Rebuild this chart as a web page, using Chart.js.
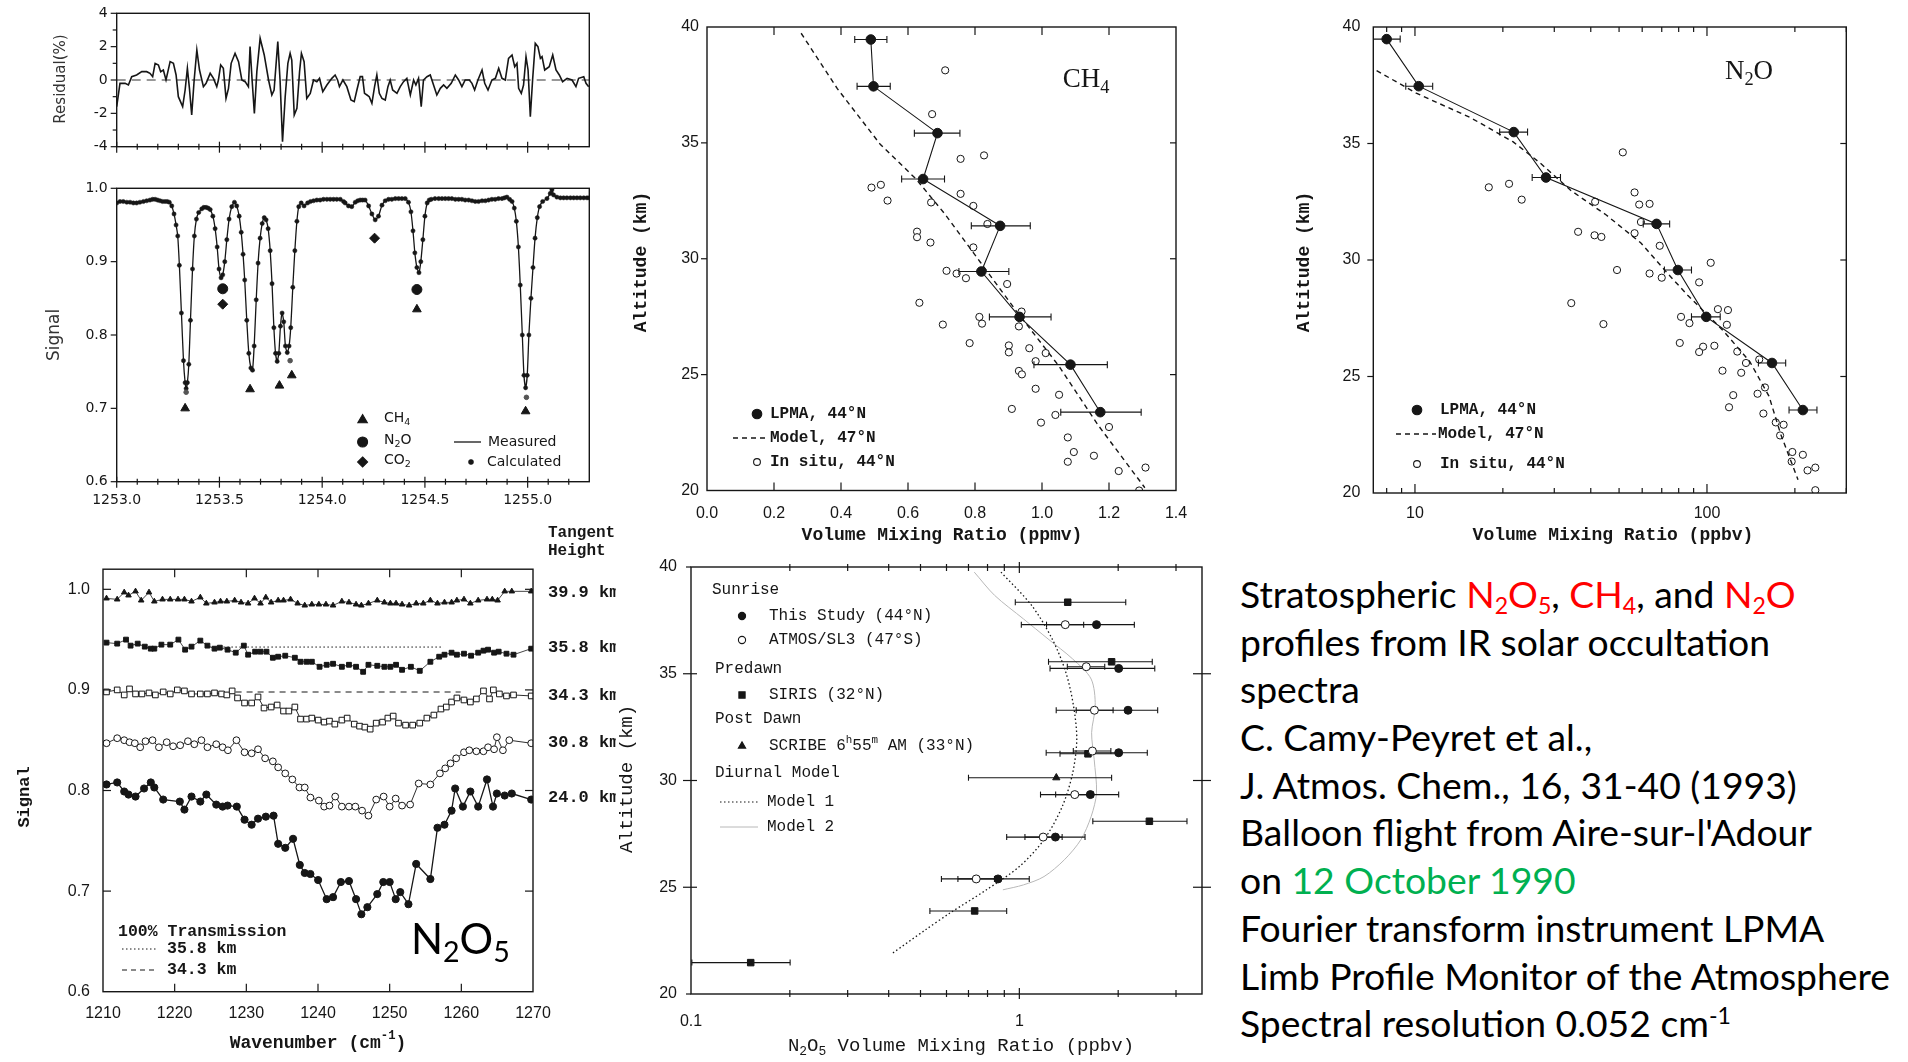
<!DOCTYPE html>
<html>
<head>
<meta charset="utf-8">
<title>LPMA profiles N2O5, CH4, N2O</title>
<script src="https://cdn.jsdelivr.net/npm/chart.js@4.4.1/dist/chart.umd.min.js"></script>
<style>
  html, body { margin: 0; padding: 0; background: #fff; }
  body { width: 1908px; height: 1062px; position: relative; overflow: hidden; }
  .panel { position: absolute; }
  #note { position: absolute; left: 1240px; top: 571px; font-family: Lato, 'Noto Sans', sans-serif;
          font-size: 36px; line-height: 47.7px; color: #000; white-space: nowrap; transform-origin: 0 0; z-index: 5; }
  #note div { height: 47.7px; }
  #note sub { font-size: 0.62em; vertical-align: -0.28em; line-height: 0; }
  #note sup { font-size: 0.62em; vertical-align: 0.6em; line-height: 0; }
  .red { color: #ff0000; }
  .green { color: #00b050; }
</style>
</head>
<body>

<div id="note">
  <div>Stratospheric <span class="red">N<sub>2</sub>O<sub>5</sub></span>, <span class="red">CH<sub>4</sub></span>, and <span class="red">N<sub>2</sub>O</span></div>
  <div>profiles from IR solar occultation</div>
  <div>spectra</div>
  <div>C. Camy-Peyret et al.,</div>
  <div>J. Atmos. Chem., 16, 31-40 (1993)</div>
  <div>Balloon flight from Aire-sur-l'Adour</div>
  <div>on <span class="green">12 October 1990</span></div>
  <div>Fourier transform instrument LPMA</div>
  <div><span id="longest">Limb Profile Monitor of the Atmosphere</span></div>
  <div>Spectral resolution 0.052 cm<sup>-1</sup></div>
</div>

<script>
// ---------- residual (top left) ----------
const resWn = [1253.000,1253.016,1253.041,1253.057,1253.073,1253.097,1253.122,1253.146,1253.162,1253.175,
  1253.187,1253.203,1253.214,1253.227,1253.240,1253.260,1253.276,1253.289,1253.300,1253.321,
  1253.333,1253.344,1253.354,1253.365,1253.377,1253.390,1253.403,1253.422,1253.435,1253.455,
  1253.471,1253.487,1253.495,1253.506,1253.519,1253.532,1253.544,1253.557,1253.576,1253.593,
  1253.609,1253.625,1253.641,1253.649,1253.659,1253.670,1253.682,1253.698,1253.718,1253.739,
  1253.755,1253.766,1253.784,1253.795,1253.807,1253.820,1253.833,1253.844,1253.852,1253.864,
  1253.877,1253.890,1253.899,1253.912,1253.925,1253.942,1253.958,1253.974,1253.987,1254.003,
  1254.023,1254.047,1254.063,1254.075,1254.084,1254.101,1254.120,1254.140,1254.156,
  1254.169,1254.185,1254.196,1254.206,1254.218,1254.229,1254.242,1254.255,1254.266,1254.278,
  1254.291,1254.307,1254.320,1254.331,1254.343,1254.364,1254.380,1254.396,1254.412,1254.429,
  1254.445,1254.456,1254.469,1254.482,1254.493,1254.510,1254.526,1254.542,1254.558,1254.575,
  1254.591,1254.607,1254.628,1254.648,1254.664,1254.680,1254.696,1254.716,1254.729,1254.742,
  1254.758,1254.778,1254.791,1254.807,1254.826,1254.843,1254.859,1254.875,1254.891,1254.907,
  1254.924,1254.937,1254.948,1254.956,1254.969,1254.980,1254.992,1255.002,1255.013,1255.024,
  1255.037,1255.050,1255.062,1255.070,1255.083,1255.105,1255.122,1255.138,1255.154,1255.170,
  1255.192,1255.216,1255.235,1255.248,1255.273,1255.284,1255.297];
const resVal = [-1.6,-0.2,-0.2,-0.3,0.2,0.3,0.5,0.5,0.4,0.2,
  1.0,0.9,0.5,0.6,0.0,1.1,1.0,0.3,-1.0,-1.6,
  -0.6,0.7,-0.5,-2.1,0.0,1.8,0.6,-0.4,-0.2,0.4,
  0.1,-0.4,0.0,0.9,0.7,-1.1,-0.5,1.0,1.6,1.1,
  0.0,-0.1,-0.4,2.0,0.0,-2.0,0.5,2.5,1.5,0.0,
  -0.9,-0.6,2.3,0.0,-3.7,-1.0,1.0,1.6,1.2,-2.1,
  -1.7,0.5,1.6,1.1,-1.1,-0.8,0.0,-0.1,0.1,-0.7,
  -0.3,0.1,0.3,0.0,-0.4,0.0,-0.4,-1.2,-1.3,
  -0.6,0.2,0.2,-0.8,-0.9,-1.0,-1.4,-0.4,0.3,-0.8,
  -1.1,-1.2,-0.4,0.0,-0.6,-0.8,-0.4,-0.1,0.1,-0.9,
  0.0,-0.3,0.1,-1.6,0.0,0.2,0.3,-0.3,-0.9,-0.5,
  -0.3,-0.5,-0.2,0.3,0.0,-0.4,0.0,0.0,-0.2,-0.6,
  0.0,0.6,-0.2,-0.6,0.0,0.1,0.7,0.1,0.0,1.3,
  1.5,0.8,1.0,-0.5,-0.8,-0.3,1.4,0.6,-2.2,0.0,
  2.2,2.0,1.3,1.4,0.6,0.8,1.5,0.6,0.3,-0.1,
  0.1,0.0,-0.4,0.1,0.2,-0.2,-0.4];
const zeroWn = [1253.0, 1255.3];
const zeroVal = [0, 0];

// ---------- signal (measured / calculated) ----------
const sigWn = [1253.000,1253.016,1253.032,1253.049,1253.065,1253.081,1253.097,1253.113,1253.130,1253.146,
  1253.162,1253.175,1253.187,1253.199,1253.211,1253.223,1253.235,1253.246,1253.256,1253.268,
  1253.279,1253.289,1253.297,1253.305,1253.315,1253.325,1253.333,1253.338,1253.344,1253.351,
  1253.359,1253.369,1253.378,1253.388,1253.399,1253.414,1253.424,1253.435,1253.445,1253.455,
  1253.468,1253.479,1253.489,1253.498,1253.508,1253.516,1253.526,1253.536,1253.547,1253.560,
  1253.573,1253.584,1253.596,1253.606,1253.615,1253.623,1253.633,1253.643,1253.653,1253.661,
  1253.669,1253.679,1253.688,1253.698,1253.708,1253.718,1253.727,1253.737,1253.747,1253.756,
  1253.765,1253.773,1253.781,1253.789,1253.797,1253.805,1253.813,1253.821,1253.830,1253.839,
  1253.847,1253.857,1253.867,1253.877,1253.886,1253.898,1253.912,1253.929,1253.943,1253.958,
  1253.974,1253.990,1254.006,1254.023,1254.039,1254.055,1254.071,1254.088,1254.104,1254.112,
  1254.128,1254.144,1254.161,1254.173,1254.185,1254.197,1254.209,1254.226,1254.242,1254.258,
  1254.274,1254.291,1254.307,1254.323,1254.339,1254.356,1254.372,1254.388,1254.404,1254.420,
  1254.432,1254.442,1254.451,1254.461,1254.471,1254.480,1254.490,1254.500,1254.511,1254.521,
  1254.531,1254.549,1254.567,1254.583,1254.599,1254.615,1254.631,1254.648,1254.664,1254.680,
  1254.696,1254.713,1254.729,1254.745,1254.761,1254.778,1254.794,1254.810,1254.826,1254.842,
  1254.858,1254.875,1254.887,1254.899,1254.912,1254.924,1254.935,1254.945,1254.955,1254.964,
  1254.974,1254.982,1254.990,1254.998,1255.006,1255.016,1255.026,1255.036,1255.047,1255.058,
  1255.073,1255.094,1255.110,1255.118,1255.126,1255.142,1255.159,1255.175,1255.191,1255.208,
  1255.224,1255.240,1255.256,1255.273,1255.289,1255.300];
const sigVal = [0.980,0.982,0.982,0.981,0.981,0.980,0.980,0.981,0.982,0.983,
  0.984,0.985,0.985,0.984,0.983,0.982,0.982,0.982,0.981,0.976,
  0.965,0.950,0.935,0.895,0.830,0.765,0.735,0.727,0.735,0.760,
  0.820,0.890,0.935,0.958,0.967,0.972,0.974,0.974,0.973,0.971,
  0.962,0.945,0.920,0.890,0.878,0.882,0.900,0.930,0.958,0.975,
  0.981,0.976,0.962,0.940,0.910,0.875,0.820,0.775,0.755,0.752,
  0.785,0.848,0.898,0.932,0.952,0.960,0.957,0.945,0.915,0.870,
  0.810,0.775,0.764,0.775,0.812,0.830,0.818,0.785,0.776,0.785,
  0.810,0.865,0.915,0.955,0.975,0.980,0.976,0.980,0.982,0.983,
  0.984,0.984,0.985,0.985,0.985,0.985,0.985,0.985,0.982,0.980,
  0.976,0.975,0.981,0.983,0.984,0.984,0.984,0.976,0.965,0.957,
  0.962,0.977,0.983,0.985,0.985,0.986,0.986,0.986,0.986,0.981,
  0.968,0.942,0.912,0.892,0.885,0.900,0.930,0.962,0.980,0.984,
  0.985,0.986,0.986,0.986,0.986,0.986,0.986,0.985,0.985,0.985,
  0.984,0.984,0.983,0.982,0.982,0.983,0.983,0.984,0.985,0.985,
  0.986,0.986,0.987,0.988,0.985,0.982,0.973,0.955,0.920,0.868,
  0.800,0.745,0.728,0.745,0.800,0.850,0.892,0.932,0.960,0.975,
  0.982,0.986,0.993,0.998,0.991,0.988,0.987,0.987,0.987,0.987,
  0.987,0.987,0.987,0.987,0.987,0.987];
const ch4LineWn = [1253.333, 1253.649, 1253.792, 1253.852, 1254.461, 1254.990];
const ch4LineSig = [0.700, 0.726, 0.731, 0.745, 0.835, 0.696];
const n2oLineWn = [1253.516, 1254.461];
const n2oLineSig = [0.863, 0.862];
const co2LineWn = [1253.516, 1254.255];
const co2LineSig = [0.842, 0.932];
const calcExtraWn = [1253.338, 1253.844, 1254.994];
const calcExtraSig = [0.722, 0.765, 0.715];

// ---------- CH4 profile ----------
const ch4Alt = [39.46, 37.44, 35.42, 33.44, 31.42, 29.45, 27.49, 25.43, 23.38];
const ch4Lpma = [0.489, 0.497, 0.688, 0.645, 0.875, 0.819, 0.933, 1.085, 1.174];
const ch4Lo = [0.441, 0.448, 0.619, 0.581, 0.789, 0.752, 0.843, 0.976, 1.056];
const ch4Hi = [0.537, 0.547, 0.755, 0.709, 0.965, 0.901, 1.027, 1.195, 1.296];
const ch4ModelAlt = [39.73, 37.34, 34.94, 33.44, 31.95, 29.85, 27.75, 25.36, 22.81, 20.12];
const ch4Model = [0.281, 0.389, 0.517, 0.624, 0.709, 0.816, 0.923, 1.051, 1.168, 1.307];
const ch4InsituAlt = [38.13,36.24,34.31,34.46,33.07,33.19,32.51,32.80,32.43,32.28,
  31.50,31.17,30.93,30.70,30.49,29.48,29.36,29.16,28.91,28.10,
  27.72,27.49,27.20,27.16,27.08,26.36,26.26,25.96,26.14,25.93,
  25.58,25.16,25.01,24.39,24.13,23.52,23.26,22.93,22.74,22.29,
  21.66,21.24,21.50,20.84,20.99,20.00];
const ch4Insitu = [0.711,0.672,0.757,0.827,0.491,0.519,0.539,0.757,0.669,0.795,
  0.837,0.627,0.627,0.667,0.795,0.715,0.745,0.773,0.896,0.634,
  0.939,0.813,0.821,0.704,0.931,0.784,0.901,0.901,0.962,1.011,
  0.981,0.931,0.940,0.981,1.051,0.910,1.040,0.997,1.200,1.077,
  1.095,1.077,1.155,1.229,1.309,1.290];

// ---------- N2O profile ----------
const n2oAlt = [39.48, 37.46, 35.49, 33.54, 31.55, 29.57, 27.56, 25.58, 23.56];
const n2oLpma = [8.0, 10.3, 21.8, 28.1, 67.2, 79.5, 99.4, 167, 213];
const n2oLo = [7.2, 9.3, 19.5, 25.2, 60.5, 71.5, 88.5, 150, 191];
const n2oHi = [8.9, 11.5, 24.3, 31.5, 74.5, 88.5, 111, 186, 238];
const n2oModelAlt = [38.13, 37.16, 36.11, 35.07, 34.17, 32.97, 31.93, 30.73, 29.39, 28.49, 27.0, 25.65, 24.16, 22.51, 20.57];
const n2oModel = [7.39, 10.1, 15.5, 21.7, 26.8, 34.3, 45.2, 59.4, 73.7, 85.9, 113, 140, 163, 179, 205];
const n2oInsituAlt = [34.62,33.12,33.27,32.59,32.90,32.38,32.41,32.50,31.63,31.21,
  31.06,30.99,31.15,30.61,29.57,29.42,29.24,29.04,29.88,28.15,
  27.25,27.56,27.29,27.89,27.85,27.22,26.44,26.28,26.32,26.05,
  26.07,25.58,25.73,25.25,25.16,24.20,24.53,24.26,23.68,23.41,
  23.03,22.93,22.47,21.76,21.64,21.35,20.97,21.09,20.12];
const n2oInsitu = [51.5,17.9,21.0,23.2,56.5,58.6,63.6,41.4,59.4,36.2,
  41.2,43.5,56.5,68.9,49.2,63.6,70.0,94.0,103,34.3,
  44.2,81.5,87.1,109,118,117,80.7,97,106,94,
  127,136,151,113,131,123,158,149,119,156,
  172,183,178,196,213,195,221,235,235];

// ---------- N2O5 spectra at tangent heights ----------
const e399Wn = [1210.49,1211.98,1212.96,1213.56,1214.54,1215.33,1216.42,1217.16,1218.30,1219.38,
  1220.47,1221.36,1222.35,1223.58,1224.42,1225.56,1226.40,1227.28,1228.37,1229.26,
  1230.25,1231.14,1231.98,1232.72,1233.46,1234.44,1235.19,1236.17,1237.16,1238.15,
  1239.14,1240.12,1241.11,1242.10,1243.33,1244.32,1245.31,1246.05,1247.04,1248.27,
  1249.26,1250.10,1250.89,1251.73,1252.72,1253.70,1254.69,1255.68,1256.67,1257.65,
  1258.64,1259.38,1260.37,1261.26,1262.35,1263.58,1264.32,1265.06,1266.05,1267.04,1269.75];
const e399 = [0.991,0.990,0.997,0.994,0.998,0.989,0.997,0.988,0.990,0.990,
  0.990,0.990,0.988,0.992,0.986,0.987,0.988,0.988,0.989,0.987,
  0.986,0.991,0.986,0.992,0.987,0.989,0.989,0.990,0.986,0.984,
  0.985,0.985,0.985,0.984,0.988,0.987,0.985,0.984,0.986,0.989,
  0.987,0.986,0.986,0.985,0.984,0.986,0.986,0.989,0.986,0.987,
  0.987,0.989,0.990,0.986,0.989,0.990,0.990,0.989,0.998,0.998,0.998];
const e358Wn = [1210.49,1211.98,1213.21,1213.85,1214.84,1215.83,1216.67,1217.16,1218.15,1219.38,
  1220.52,1221.46,1222.35,1223.58,1224.57,1225.56,1226.30,1227.38,1228.52,1229.65,
  1230.25,1231.23,1231.98,1232.81,1233.70,1234.44,1235.43,1236.77,1237.56,1238.40,
  1239.14,1240.22,1241.21,1242.10,1243.33,1244.32,1245.31,1246.30,1247.04,1248.27,
  1249.26,1250.10,1250.89,1251.73,1252.96,1254.20,1255.68,1256.91,1257.65,1258.64,
  1259.38,1260.37,1261.36,1262.35,1263.09,1263.73,1264.57,1265.21,1266.30,1267.28,1269.75];
const e358 = [0.947,0.946,0.950,0.944,0.946,0.943,0.941,0.941,0.945,0.945,
  0.950,0.940,0.943,0.949,0.944,0.941,0.942,0.940,0.937,0.944,
  0.935,0.938,0.938,0.938,0.932,0.933,0.934,0.932,0.928,0.928,
  0.928,0.923,0.925,0.926,0.923,0.925,0.923,0.918,0.925,0.924,
  0.923,0.923,0.925,0.920,0.923,0.919,0.928,0.933,0.935,0.937,
  0.935,0.936,0.934,0.937,0.939,0.940,0.937,0.938,0.936,0.935,0.941];
const e343Wn = [1210.49,1211.98,1212.96,1213.70,1214.54,1215.43,1216.42,1217.31,1218.40,1219.38,
  1220.37,1221.36,1222.35,1223.58,1224.57,1225.56,1226.54,1227.28,1228.02,1228.77,
  1229.75,1230.74,1231.63,1232.47,1233.46,1234.30,1235.19,1235.93,1236.77,1237.56,
  1238.40,1239.14,1240.02,1240.86,1241.60,1242.35,1243.33,1244.07,1245.06,1245.80,
  1246.54,1247.28,1248.12,1249.01,1249.75,1250.49,1251.23,1252.22,1253.21,1254.20,
  1255.19,1256.17,1257.16,1257.90,1258.64,1259.38,1260.37,1261.26,1262.10,1263.09,
  1263.93,1264.47,1265.31,1266.30,1267.28,1269.75];
const e343 = [0.898,0.900,0.895,0.901,0.896,0.896,0.897,0.895,0.898,0.896,
  0.900,0.899,0.896,0.896,0.896,0.897,0.896,0.895,0.899,0.892,
  0.887,0.887,0.893,0.882,0.883,0.885,0.879,0.879,0.883,0.871,
  0.871,0.872,0.870,0.868,0.869,0.866,0.870,0.872,0.866,0.864,
  0.863,0.861,0.867,0.868,0.872,0.874,0.867,0.865,0.865,0.867,
  0.872,0.875,0.881,0.883,0.888,0.892,0.890,0.888,0.891,0.899,
  0.891,0.900,0.896,0.894,0.895,0.894];
const e308Wn = [1210.49,1211.98,1212.96,1213.70,1214.44,1215.19,1215.93,1216.91,1217.80,1218.89,
  1219.78,1220.77,1221.85,1222.74,1223.73,1224.57,1225.80,1226.69,1227.43,1228.62,
  1229.75,1230.74,1231.63,1232.62,1233.70,1234.44,1235.43,1236.42,1237.41,1238.15,
  1238.94,1240.12,1240.86,1241.60,1242.40,1243.33,1244.32,1245.21,1246.15,1247.04,
  1248.12,1249.16,1250.00,1250.84,1251.73,1252.86,1254.05,1255.68,1257.01,1257.75,
  1258.49,1259.28,1260.37,1261.11,1262.10,1263.09,1263.73,1264.57,1264.96,1265.80,
  1266.69,1269.75];
const e308 = [0.847,0.852,0.850,0.848,0.847,0.843,0.849,0.850,0.843,0.848,
  0.844,0.845,0.849,0.846,0.850,0.843,0.846,0.843,0.840,0.850,
  0.838,0.837,0.841,0.832,0.829,0.823,0.817,0.811,0.803,0.803,
  0.793,0.790,0.784,0.785,0.794,0.784,0.784,0.784,0.780,0.775,
  0.791,0.794,0.784,0.792,0.785,0.786,0.807,0.806,0.817,0.822,
  0.827,0.832,0.838,0.840,0.839,0.839,0.843,0.841,0.853,0.840,
  0.850,0.847];
const e240Wn = [1210.49,1211.98,1212.96,1213.56,1214.54,1215.73,1216.67,1217.16,1218.40,1220.72,
  1221.36,1222.35,1223.58,1224.42,1225.80,1226.69,1227.38,1228.67,1229.75,1230.74,
  1231.63,1232.72,1233.80,1234.44,1235.43,1236.52,1237.46,1238.15,1238.94,1240.02,
  1241.21,1242.10,1243.19,1244.32,1245.31,1246.05,1246.89,1248.27,1249.11,1250.00,
  1250.84,1251.48,1252.62,1253.70,1255.68,1256.67,1257.65,1258.64,1259.14,1260.22,
  1261.26,1262.35,1263.58,1264.42,1264.96,1266.05,1267.04,1269.75];
const e240 = [0.806,0.808,0.799,0.796,0.794,0.802,0.808,0.803,0.791,0.789,
  0.781,0.794,0.789,0.796,0.786,0.784,0.785,0.784,0.771,0.766,
  0.772,0.774,0.775,0.747,0.743,0.752,0.726,0.718,0.717,0.711,
  0.692,0.694,0.709,0.710,0.692,0.677,0.684,0.697,0.709,0.709,
  0.692,0.699,0.687,0.727,0.712,0.763,0.766,0.780,0.802,0.784,
  0.799,0.784,0.811,0.784,0.797,0.795,0.797,0.791];
const ref358Wn = [1226.8, 1257.5];
const ref358 = [0.9426, 0.9426];
const ref343Wn = [1228.5, 1259.9];
const ref343 = [0.898, 0.898];
const tangentLabels = ['39.9 km', '35.8 km', '34.3 km', '30.8 km', '24.0 km'];

// ---------- N2O5 profile ----------
const sunAlt = [37.30, 35.25, 33.29, 31.30, 29.34, 27.35, 25.39];
const sunVmr = [1.718, 2.007, 2.143, 2.007, 1.645, 1.288, 0.861];
const sunLo = [1.014, 1.24, 1.295, 1.207, 1.16, 0.915, 0.579];
const sunHi = [2.24, 2.585, 2.638, 2.453, 2.007, 1.585, 1.072];
const atmosAlt = [37.30, 35.33, 33.29, 31.38, 29.34, 27.35, 25.39];
const atmosVmr = [1.380, 1.599, 1.693, 1.669, 1.475, 1.182, 0.739];
const atmosLo = [1.21, 1.40, 1.49, 1.46, 1.29, 1.04, 0.65];
const atmosHi = [1.57, 1.82, 1.93, 1.90, 1.68, 1.35, 0.84];
const sirisAlt = [38.35, 35.56, 31.25, 28.09, 23.89, 21.47];
const sirisVmr = [1.404, 1.910, 1.618, 2.489, 0.731, 0.152];
const sirisLo = [0.972, 1.227, 1.33, 1.674, 0.534, 0.1006];
const sirisHi = [2.109, 2.54, 2.0, 3.24, 0.915, 0.2004];
const scribeAlt = [30.13];
const scribeVmr = [1.296];
const scribeLo = [0.70];
const scribeHi = [1.91];
const model1Alt = [39.76, 38.2, 36.63, 35.06, 33.5, 31.93, 30.36, 28.79, 27.23, 25.97, 24.88, 23.78, 22.99, 21.90];
const model1Vmr = [0.879, 1.09, 1.259, 1.386, 1.462, 1.496, 1.454, 1.352, 1.189, 1.0, 0.794, 0.613, 0.516, 0.41];
const model2Alt = [39.76, 38.67, 37.57, 36.63, 35.69, 34.75, 33.5, 32.24, 30.99, 29.42, 28.32, 27.23, 26.29, 25.5, 25.11, 24.88];
const model2Vmr = [0.729, 0.841, 1.029, 1.223, 1.454, 1.655, 1.703, 1.66, 1.69, 1.718, 1.655, 1.54, 1.372, 1.189, 1.029, 0.891];

// ---------- tick values ----------
const resTicks = [-4, -2, 0, 2, 4];
const resMinor = [-3, -1, 1, 3];
const sigTicks = [0.6, 0.7, 0.8, 0.9, 1.0];
const wnTicks = [1253.0, 1253.5, 1254.0, 1254.5, 1255.0];
const wnMinor = [1253.1,1253.2,1253.3,1253.4,1253.6,1253.7,1253.8,1253.9,1254.1,1254.2,1254.3,1254.4,1254.6,1254.7,1254.8,1254.9,1255.1,1255.2];
const ppmvTicks = [0, 0.2, 0.4, 0.6, 0.8, 1.0, 1.2, 1.4];
const altTicks = [20, 25, 30, 35, 40];
const altInner = [25, 30, 35];
const ppbvTicks = [10, 100];
const ppbvMinor = [8, 9, 20, 30, 40, 50, 60, 70, 80, 90, 200, 300];
const eWnTicks = [1210, 1220, 1230, 1240, 1250, 1260, 1270];
const eSigTicks = [0.6, 0.7, 0.8, 0.9, 1.0];
const n2o5Ticks = [0.1, 1];
const n2o5Minor = [0.2, 0.3, 0.4, 0.5, 0.6, 0.7, 0.8, 0.9, 2, 3];

const INK = '#161616';
const MONO = "'Liberation Mono', 'DejaVu Sans Mono', monospace";
const SANS = "'Liberation Sans', Arial, sans-serif";
const GEO = "'DejaVu Sans', sans-serif";
const SERIF = "'Liberation Serif', serif";

function pts(xs, ys) { return xs.map((x, i) => ({ x: x, y: ys[i] })); }
function bars(lo, hi, ys) {
  const d = [];
  ys.forEach((y, i) => { d.push({ x: lo[i], y: y }, { x: hi[i], y: y }, { x: null, y: null }); });
  return d;
}

function richParts(s) {
  const out = [];
  const re = /([_^])\{([^}]*)\}/g;
  let last = 0, m;
  while ((m = re.exec(s))) {
    if (m.index > last) out.push({ t: s.slice(last, m.index), k: 0 });
    out.push({ t: m[2], k: m[1] === '_' ? 1 : -1 });
    last = re.lastIndex;
  }
  if (last < s.length) out.push({ t: s.slice(last), k: 0 });
  return out;
}

function drawRich(ctx, t, ox, oy) {
  const size = t.size || 16, fam = t.family || SANS, wt = t.weight || 'normal';
  const parts = richParts(t.text);
  const fontOf = k => wt + ' ' + (k ? size * 0.68 : size) + 'px ' + fam;
  let total = 0;
  const widths = parts.map(p => { ctx.font = fontOf(p.k); const w = ctx.measureText(p.t).width; total += w; return w; });
  ctx.save();
  ctx.translate(t.x - ox, t.y - oy);
  if (t.rot) ctx.rotate(t.rot * Math.PI / 180);
  if (t.clip) { ctx.beginPath(); ctx.rect(-50, -size, t.clip - t.x + 50, size * 2); ctx.clip(); }
  let x = t.align === 'center' ? -total / 2 : (t.align === 'right' ? -total : 0);
  ctx.textBaseline = 'middle';
  ctx.textAlign = 'left';
  ctx.fillStyle = t.color || INK;
  parts.forEach((p, i) => {
    ctx.font = fontOf(p.k);
    const dy = p.k === 1 ? size * 0.3 : (p.k === -1 ? -size * 0.38 : 0);
    ctx.fillText(p.t, x, dy);
    x += widths[i];
  });
  ctx.restore();
}

function drawMark(ctx, style, x, y, r, fill) {
  ctx.beginPath();
  if (style === 'circle') ctx.arc(x, y, r, 0, Math.PI * 2);
  else if (style === 'triangle') { ctx.moveTo(x, y - r); ctx.lineTo(x + r * 0.866, y + r * 0.5); ctx.lineTo(x - r * 0.866, y + r * 0.5); ctx.closePath(); }
  else if (style === 'rect') { const h = r * 0.707; ctx.rect(x - h, y - h, 2 * h, 2 * h); }
  else if (style === 'rectRot') { ctx.moveTo(x, y - r); ctx.lineTo(x + r, y); ctx.lineTo(x, y + r); ctx.lineTo(x - r, y); ctx.closePath(); }
  ctx.fillStyle = fill ? INK : '#fff';
  ctx.fill();
  ctx.strokeStyle = INK; ctx.lineWidth = 1.1;
  ctx.stroke();
}

const decorPlugin = {
  id: 'decor',
  afterDraw(chart, args, o) {
    const ctx = chart.ctx, a = chart.chartArea, sx = chart.scales.x, sy = chart.scales.y;
    const ox = o.origin.x, oy = o.origin.y;
    ctx.save();
    ctx.strokeStyle = INK;
    ctx.lineWidth = o.frameWidth || 1.4;
    ctx.strokeRect(a.left, a.top, a.right - a.left, a.bottom - a.top);
    (o.ticks || []).forEach(t => {
      ctx.lineWidth = t.width || 1.2;
      t.values.forEach(v => {
        ctx.beginPath();
        if (t.side === 'top' || t.side === 'bottom') {
          const x = sx.getPixelForValue(v);
          const y0 = t.side === 'bottom' ? a.bottom : a.top;
          const dir = t.side === 'bottom' ? -1 : 1;
          ctx.moveTo(x, y0 - dir * (t.out || 0)); ctx.lineTo(x, y0 + dir * (t.in || 0));
        } else {
          const y = sy.getPixelForValue(v);
          const x0 = t.side === 'left' ? a.left : a.right;
          const dir = t.side === 'left' ? 1 : -1;
          ctx.moveTo(x0 - dir * (t.out || 0), y); ctx.lineTo(x0 + dir * (t.in || 0), y);
        }
        ctx.stroke();
      });
    });
    (o.lines || []).forEach(l => {
      ctx.beginPath();
      ctx.setLineDash(l.dash || []);
      ctx.strokeStyle = l.color || INK;
      ctx.lineWidth = l.width || 1.1;
      ctx.moveTo(l.x1 - ox, l.y - oy); ctx.lineTo(l.x2 - ox, l.y - oy);
      ctx.stroke();
      ctx.setLineDash([]);
    });
    (o.marks || []).forEach(m => drawMark(ctx, m.style, m.x - ox, m.y - oy, m.r, m.fill));
    (o.texts || []).forEach(t => drawRich(ctx, t, ox, oy));
    ctx.restore();
  }
};
Chart.register(decorPlugin);

function axis(type, min, max, ticks, fmt, font, pad, show) {
  return {
    type: type, min: min, max: max,
    grid: { display: false, drawTicks: false },
    border: { display: false },
    ticks: { display: show !== false, autoSkip: false, maxRotation: 0, minRotation: 0, padding: pad, color: INK, font: font, callback: fmt },
    afterBuildTicks: s => { s.ticks = ticks.map(v => ({ value: v })); }
  };
}

function panel(box, plot, xAxis, yAxis, datasets, decor) {
  const L = plot.l - box.x, T = plot.t - box.y, R = box.x + box.w - plot.r, B = box.y + box.h - plot.b;
  const wrap = document.createElement('div');
  wrap.className = 'panel';
  wrap.style.left = box.x + 'px';
  wrap.style.top = box.y + 'px';
  const cv = document.createElement('canvas');
  cv.width = box.w; cv.height = box.h;
  cv.style.width = box.w + 'px'; cv.style.height = box.h + 'px';
  wrap.appendChild(cv);
  document.body.appendChild(wrap);
  xAxis.afterFit = s => { s.height = B; s.paddingLeft = 0; s.paddingRight = 0; };
  yAxis.afterFit = s => { s.width = L; s.paddingTop = 0; s.paddingBottom = 0; };
  decor.origin = { x: box.x, y: box.y };
  return new Chart(cv, {
    type: 'scatter',
    data: { datasets: datasets },
    options: {
      responsive: false, animation: false, events: [], devicePixelRatio: 1,
      layout: { padding: { left: 0, top: T, right: R, bottom: 0 } },
      plugins: { legend: { display: false }, tooltip: { enabled: false }, decor: decor },
      scales: { x: xAxis, y: yAxis }
    }
  });
}

const lineDs = (data, o) => Object.assign({ data: data, showLine: true, borderColor: INK, borderWidth: 1.2, pointRadius: 0 }, o);
const markDs = (data, style, r, filled, o) => Object.assign({
  data: data, showLine: false, pointStyle: style, pointRadius: r, pointBorderWidth: 1,
  pointBorderColor: INK, pointBackgroundColor: filled ? INK : '#fff'
}, o);
const errDs = (data, cap) => ({
  data: data, showLine: true, spanGaps: false, borderColor: INK, borderWidth: 1.1,
  pointStyle: 'line', pointRotation: 90, pointRadius: cap, pointBorderColor: INK, pointBorderWidth: 1.1
});

function buildCharts() {
  const tickGeo = { family: GEO, size: 14 };
  const tickSans = { family: SANS, size: 16 };
  const fmt1 = v => Number(v).toFixed(1);
  const fmt0 = v => String(v);

  // residual
  panel({ x: 40, y: 0, w: 565, h: 175 }, { l: 116.7, t: 13.3, r: 589.3, b: 146.7 },
    axis('linear', 1253.0, 1255.3, wnTicks, fmt1, tickGeo, 6, false),
    axis('linear', -4, 4, resTicks, fmt0, tickGeo, 9),
    [
      lineDs(pts(resWn, resVal), { borderWidth: 1.6 }),
      lineDs(pts(zeroWn, zeroVal), { borderWidth: 1, borderDash: [9, 6], borderColor: '#333' })
    ],
    {
      ticks: [
        { side: 'bottom', values: wnTicks, in: 5, out: 6 },
        { side: 'bottom', values: wnMinor, in: 3, out: 3 },
        { side: 'left', values: resTicks, out: 6 },
        { side: 'left', values: resMinor, out: 4 }
      ],
      texts: [{ text: 'Residual(%)', x: 61, y: 79, size: 15, family: GEO, rot: -90, align: 'center', color: '#333' }]
    });

  // signal
  panel({ x: 40, y: 175, w: 565, h: 340 }, { l: 116.7, t: 188.3, r: 589.3, b: 481.7 },
    axis('linear', 1253.0, 1255.3, wnTicks, fmt1, tickGeo, 10),
    axis('linear', 0.6, 1.0, sigTicks, fmt1, tickGeo, 9),
    [
      markDs(pts(ch4LineWn, ch4LineSig), 'triangle', 5, true),
      markDs(pts(n2oLineWn, n2oLineSig), 'circle', 5, true),
      markDs(pts(co2LineWn, co2LineSig), 'rectRot', 5, true),
      markDs(pts(calcExtraWn, calcExtraSig), 'circle', 2.3, true, { pointBackgroundColor: '#555', pointBorderColor: '#555' }),
      markDs(pts(sigWn, sigVal), 'circle', 2.1, true, { pointBorderWidth: 0.5 }),
      lineDs(pts(sigWn, sigVal), { borderWidth: 1.3, tension: 0.2 })
    ],
    {
      ticks: [
        { side: 'bottom', values: wnTicks, in: 5, out: 6 },
        { side: 'bottom', values: wnMinor, in: 3, out: 3 },
        { side: 'left', values: sigTicks, out: 6 }
      ],
      marks: [
        { style: 'triangle', x: 362.6, y: 420, r: 5.5, fill: true },
        { style: 'circle', x: 362.6, y: 442, r: 5, fill: true },
        { style: 'rectRot', x: 362.6, y: 462, r: 5, fill: true },
        { style: 'circle', x: 471, y: 462, r: 2.2, fill: true }
      ],
      lines: [{ x1: 454, x2: 481, y: 442, width: 1.3 }],
      texts: [
        { text: 'Signal', x: 55, y: 335, size: 17, family: GEO, rot: -90, align: 'center', color: '#333' },
        { text: 'CH_{4}', x: 384, y: 418, size: 14, family: GEO },
        { text: 'N_{2}O', x: 384, y: 440, size: 14, family: GEO },
        { text: 'CO_{2}', x: 384, y: 460, size: 14, family: GEO },
        { text: 'Measured', x: 488, y: 442, size: 14, family: GEO },
        { text: 'Calculated', x: 487, y: 462, size: 14, family: GEO }
      ]
    });

  // CH4 profile
  panel({ x: 620, y: 8, w: 575, h: 545 }, { l: 707, t: 27, r: 1176, b: 490.5 },
    axis('linear', 0, 1.40, ppmvTicks, fmt1, tickSans, 13),
    axis('linear', 20, 40, altTicks, fmt0, tickSans, 8),
    [
      markDs(pts(ch4Lpma, ch4Alt), 'circle', 4.8, true),
      lineDs(pts(ch4Lpma, ch4Alt), { borderWidth: 1.1 }),
      errDs(bars(ch4Lo, ch4Hi, ch4Alt), 3.5),
      lineDs(pts(ch4Model, ch4ModelAlt), { borderWidth: 1.4, borderDash: [5, 4] }),
      markDs(pts(ch4Insitu, ch4InsituAlt), 'circle', 3.6, false)
    ],
    {
      ticks: [
        { side: 'top', values: ppmvTicks.slice(1, 7), in: 8 },
        { side: 'bottom', values: ppmvTicks.slice(1, 7), in: 8 },
        { side: 'left', values: altInner, out: 6 },
        { side: 'right', values: altInner, in: 6 }
      ],
      marks: [
        { style: 'circle', x: 757, y: 414, r: 4.8, fill: true },
        { style: 'circle', x: 757, y: 462, r: 3.4, fill: false }
      ],
      lines: [{ x1: 733, x2: 768, y: 438, dash: [5, 4], width: 1.4 }],
      texts: [
        { text: 'Volume Mixing Ratio (ppmv)', x: 942, y: 535, size: 18, family: MONO, weight: 'bold', align: 'center' },
        { text: 'Altitude (km)', x: 641, y: 262, size: 18, family: MONO, weight: 'bold', rot: -90, align: 'center' },
        { text: 'LPMA, 44°N', x: 770, y: 414, size: 16, family: MONO, weight: 'bold' },
        { text: 'Model, 47°N', x: 770, y: 438, size: 16, family: MONO, weight: 'bold' },
        { text: 'In situ, 44°N', x: 770, y: 462, size: 16, family: MONO, weight: 'bold' },
        { text: 'CH_{4}', x: 1086, y: 80, size: 27, family: SERIF, align: 'center' }
      ]
    });

  // N2O profile
  panel({ x: 1285, y: 8, w: 590, h: 545 }, { l: 1373.3, t: 27, r: 1846.3, b: 493 },
    axis('logarithmic', 7.2, 300, ppbvTicks, fmt0, tickSans, 11),
    axis('linear', 20, 40, altTicks, fmt0, tickSans, 13),
    [
      markDs(pts(n2oLpma, n2oAlt), 'circle', 4.8, true),
      lineDs(pts(n2oLpma, n2oAlt), { borderWidth: 1.1 }),
      errDs(bars(n2oLo, n2oHi, n2oAlt), 3.5),
      lineDs(pts(n2oModel, n2oModelAlt), { borderWidth: 1.4, borderDash: [5, 4] }),
      markDs(pts(n2oInsitu, n2oInsituAlt), 'circle', 3.6, false)
    ],
    {
      ticks: [
        { side: 'top', values: ppbvTicks, in: 9 },
        { side: 'top', values: ppbvMinor, in: 5 },
        { side: 'bottom', values: ppbvTicks, in: 9 },
        { side: 'bottom', values: ppbvMinor, in: 5 },
        { side: 'left', values: altInner, out: 6 },
        { side: 'right', values: altInner, in: 6 }
      ],
      marks: [
        { style: 'circle', x: 1417, y: 410, r: 4.8, fill: true },
        { style: 'circle', x: 1417, y: 464, r: 3.4, fill: false }
      ],
      lines: [{ x1: 1396, x2: 1436, y: 434, dash: [5, 4], width: 1.4 }],
      texts: [
        { text: 'Volume Mixing Ratio (ppbv)', x: 1613, y: 535, size: 18, family: MONO, weight: 'bold', align: 'center' },
        { text: 'Altitude (km)', x: 1304, y: 262, size: 18, family: MONO, weight: 'bold', rot: -90, align: 'center' },
        { text: 'LPMA, 44°N', x: 1440, y: 410, size: 16, family: MONO, weight: 'bold' },
        { text: 'Model, 47°N', x: 1438, y: 434, size: 16, family: MONO, weight: 'bold' },
        { text: 'In situ, 44°N', x: 1440, y: 464, size: 16, family: MONO, weight: 'bold' },
        { text: 'N_{2}O', x: 1749, y: 72, size: 27, family: SERIF, align: 'center' }
      ]
    });

  // N2O5 spectra
  const labelYs = [593, 648, 696, 743, 798];
  panel({ x: 0, y: 515, w: 632, h: 547 }, { l: 103, t: 569.2, r: 533, b: 991.7 },
    axis('linear', 1210, 1270, eWnTicks, fmt0, tickSans, 12),
    axis('linear', 0.6, 1.02, eSigTicks, fmt1, tickSans, 13),
    [
      markDs(pts(e399Wn, e399), 'triangle', 3.2, true),
      lineDs(pts(e399Wn, e399), { borderWidth: 0.8 }),
      markDs(pts(e358Wn, e358), 'rect', 3.4, true),
      lineDs(pts(e358Wn, e358), { borderWidth: 0.8 }),
      markDs(pts(e343Wn, e343), 'rect', 4, false),
      lineDs(pts(e343Wn, e343), { borderWidth: 0.9 }),
      markDs(pts(e308Wn, e308), 'circle', 3.4, false),
      lineDs(pts(e308Wn, e308), { borderWidth: 0.9 }),
      markDs(pts(e240Wn, e240), 'circle', 3.6, true),
      lineDs(pts(e240Wn, e240), { borderWidth: 1.3 }),
      lineDs(pts(ref358Wn, ref358), { borderWidth: 1, borderDash: [1.5, 2.5] }),
      lineDs(pts(ref343Wn, ref343), { borderWidth: 1.1, borderDash: [6, 5] })
    ],
    {
      ticks: [
        { side: 'top', values: eWnTicks.slice(1, 6), in: 8 },
        { side: 'bottom', values: eWnTicks.slice(1, 6), in: 8 },
        { side: 'left', values: [0.7, 0.8, 0.9, 1.0], in: 8 },
        { side: 'right', values: [0.7, 0.8, 0.9, 1.0], in: 8 }
      ],
      lines: [
        { x1: 122, x2: 158, y: 949, dash: [1.5, 2.5], width: 1 },
        { x1: 122, x2: 158, y: 970, dash: [5, 4], width: 1.1 }
      ],
      texts: [
        { text: 'Signal', x: 25, y: 797, size: 17, family: MONO, weight: 'bold', rot: -90, align: 'center' },
        { text: 'Wavenumber (cm^{-1})', x: 318, y: 1043, size: 18, family: MONO, weight: 'bold', align: 'center' },
        { text: '100% Transmission', x: 118, y: 932, size: 16.5, family: MONO, weight: 'bold' },
        { text: '35.8 km', x: 167, y: 949, size: 16.5, family: MONO, weight: 'bold' },
        { text: '34.3 km', x: 167, y: 970, size: 16.5, family: MONO, weight: 'bold' },
        { text: 'Tangent', x: 548, y: 533, size: 16, family: MONO, weight: 'bold' },
        { text: 'Height', x: 548, y: 551, size: 16, family: MONO, weight: 'bold' },
        { text: 'N_{2}O_{5}', x: 411, y: 940, size: 42, family: "Lato, 'Noto Sans', sans-serif", color: '#000' }
      ].concat(tangentLabels.map((s, i) => ({ text: s, x: 548, y: labelYs[i], size: 17, family: MONO, weight: 'bold', clip: 616 })))
    });

  // N2O5 profile
  panel({ x: 605, y: 548, w: 615, h: 514 }, { l: 691, t: 567, r: 1202, b: 994 },
    axis('logarithmic', 0.1, 3.6, n2o5Ticks, fmt0, tickSans, 18),
    axis('linear', 20, 40, altTicks, fmt0, tickSans, 14),
    [
      markDs(pts(sunVmr, sunAlt), 'circle', 4, true),
      markDs(pts(atmosVmr, atmosAlt), 'circle', 4, false),
      markDs(pts(sirisVmr, sirisAlt), 'rect', 4.6, true),
      markDs(pts(scribeVmr, scribeAlt), 'triangle', 4.2, true),
      errDs(bars(sunLo, sunHi, sunAlt), 3),
      errDs(bars(atmosLo, atmosHi, atmosAlt), 3),
      errDs(bars(sirisLo, sirisHi, sirisAlt), 3),
      errDs(bars(scribeLo, scribeHi, scribeAlt), 3),
      lineDs(pts(model1Vmr, model1Alt), { borderWidth: 1.3, borderDash: [1.5, 2.5], tension: 0.3 }),
      lineDs(pts(model2Vmr, model2Alt), { borderWidth: 1, borderColor: '#b8b8b8', tension: 0.3 })
    ],
    {
      ticks: [
        { side: 'top', values: n2o5Minor, in: 4, out: 3 },
        { side: 'top', values: [1], in: 6, out: 5 },
        { side: 'bottom', values: n2o5Minor, in: 4, out: 3 },
        { side: 'bottom', values: [1], in: 6, out: 5 },
        { side: 'left', values: altInner, in: 6, out: 8 },
        { side: 'left', values: [20, 40], out: 5 },
        { side: 'right', values: altInner, in: 9, out: 9 }
      ],
      marks: [
        { style: 'circle', x: 742, y: 616, r: 3.6, fill: true },
        { style: 'circle', x: 742, y: 640, r: 3.6, fill: false },
        { style: 'rect', x: 742, y: 695, r: 4.4, fill: true },
        { style: 'triangle', x: 742, y: 746, r: 4.2, fill: true }
      ],
      lines: [
        { x1: 720, x2: 758, y: 802, dash: [1.5, 2.5], width: 1.2 },
        { x1: 720, x2: 758, y: 827, color: '#b8b8b8', width: 1 }
      ],
      texts: [
        { text: 'N_{2}O_{5} Volume Mixing Ratio (ppbv)', x: 961, y: 1046, size: 19, family: MONO, align: 'center' },
        { text: 'Altitude (km)', x: 627, y: 779, size: 19, family: MONO, rot: -90, align: 'center' },
        { text: 'Sunrise', x: 712, y: 590, size: 16, family: MONO },
        { text: 'This Study (44°N)', x: 769, y: 616, size: 16, family: MONO },
        { text: 'ATMOS/SL3 (47°S)', x: 769, y: 640, size: 16, family: MONO },
        { text: 'Predawn', x: 715, y: 669, size: 16, family: MONO },
        { text: 'SIRIS (32°N)', x: 769, y: 695, size: 16, family: MONO },
        { text: 'Post Dawn', x: 715, y: 719, size: 16, family: MONO },
        { text: 'SCRIBE 6^{h}55^{m} AM (33°N)', x: 769, y: 746, size: 16, family: MONO },
        { text: 'Diurnal Model', x: 715, y: 773, size: 16, family: MONO },
        { text: 'Model 1', x: 767, y: 802, size: 16, family: MONO },
        { text: 'Model 2', x: 767, y: 827, size: 16, family: MONO }
      ]
    });
}

function fitNote() {
  const el = document.getElementById('longest');
  const r = document.createRange();
  r.selectNodeContents(el);
  const w = r.getBoundingClientRect().width;
  if (w > 0) document.getElementById('note').style.transform = 'scaleX(' + (650 / w) + ')';
}

document.fonts.ready.then(() => { fitNote(); buildCharts(); });
</script>
</body>
</html>
